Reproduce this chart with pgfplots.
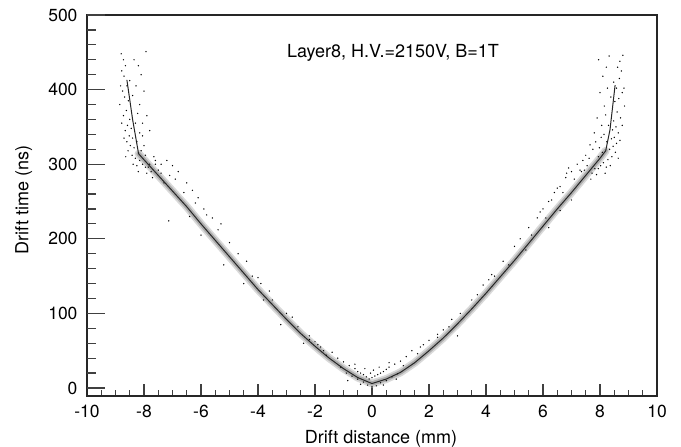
\documentclass[border=0pt]{standalone}
\usepackage{pgfplots}
\pgfplotsset{compat=1.18}
\usepackage{pgfplotstable}
\usepackage{fontspec}
\setmainfont{TeX Gyre Heros}

% fitted drift curve
\pgfplotstableread{
x y
-8.60 413
-8.40 360
-8.19 314
-8.00 306
-7.50 285
-7.00 264
-6.50 243
-6.00 220
-5.50 198
-5.00 176
-4.50 154
-4.00 132
-3.50 112
-3.00 92
-2.50 73
-2.00 56
-1.50 40
-1.00 26
-0.50 14
0.00 6
0.50 12
1.00 21
1.50 34
2.00 50
2.50 67
3.00 86
3.50 106
4.00 127
4.50 149
5.00 171
5.50 194
6.00 217
6.50 240
7.00 262
7.50 285
8.00 308
8.20 318
8.35 346
8.53 406
}\fitcurve

% dense core of the hit band
\pgfplotstableread{
x y
-8.19 314
-8.00 306
-7.50 285
-7.00 264
-6.50 243
-6.00 220
-5.50 198
-5.00 176
-4.50 154
-4.00 132
-3.50 112
-3.00 92
-2.50 73
-2.00 56
-1.50 40
-1.00 26
-0.50 14
0.00 6
0.50 12
1.00 21
1.50 34
2.00 50
2.50 67
3.00 86
3.50 106
4.00 127
4.50 149
5.00 171
5.50 194
6.00 217
6.50 240
7.00 262
7.50 285
8.00 308
8.20 318
}\band

% sparse hits
\pgfplotstableread{
x y
-8.80 448
-8.72 440
-8.78 425
-8.65 432
-8.70 418
-8.60 405
-8.75 398
-8.68 390
-8.55 385
-8.62 372
-8.72 365
-8.50 360
-8.58 352
-8.66 345
-8.45 348
-8.52 338
-8.60 330
-8.40 335
-8.48 325
-8.56 318
-8.35 322
-8.42 312
-8.30 308
-8.38 300
-8.25 298
-8.15 305
-8.05 300
-7.95 296
-8.20 290
-7.90 288
-7.85 296
-7.75 290
-7.70 282
-8.10 318
-8.00 325
-8.25 330
-8.15 342
-8.30 355
-8.05 338
-7.95 312
-7.93 451
-8.20 432
-8.35 440
-8.10 420
-8.00 398
-8.28 405
-8.15 380
-7.90 365
-8.40 392
-8.22 368
-8.05 355
-7.80 345
-8.50 412
-8.82 405
-8.85 380
-8.78 355
-8.70 335
-8.64 310
-7.65 310
-7.60 300
-7.50 292
-7.40 288
8.80 446
8.70 438
8.75 425
8.62 430
8.68 415
8.58 402
8.78 396
8.66 388
8.52 384
8.60 370
8.72 362
8.48 358
8.56 350
8.64 342
8.44 346
8.50 336
8.58 328
8.40 334
8.46 324
8.54 316
8.34 320
8.42 310
8.28 306
8.36 298
8.22 296
8.12 302
8.02 298
7.94 294
8.18 288
7.88 286
7.82 294
7.72 288
7.68 280
8.08 316
7.98 322
8.24 330
8.14 340
8.30 352
8.04 336
7.94 310
7.95 440
8.22 430
8.32 445
8.10 418
8.00 396
8.26 402
8.15 378
7.90 362
8.38 390
8.20 366
8.06 352
7.80 342
8.48 410
8.84 402
8.86 378
8.78 352
8.70 332
8.64 308
7.62 308
7.55 298
7.45 292
7.35 290
7.75 320
7.85 330
7.65 326
7.50 312
7.20 300
7.00 290
6.80 282
6.60 270
6.40 262
6.20 250
6.00 240
5.80 228
5.50 215
5.20 200
6.90 295
7.10 280
7.30 292
6.70 262
6.30 252
5.90 236
6.83 288
6.50 268
7.40 305
5.00 190
4.60 170
4.20 152
6.10 228
5.60 205
6.60 238
5.40 185
4.80 165
3.00 70
7.00 252
6.20 215
-7.20 305
-7.00 298
-6.80 290
-6.50 275
-6.30 265
-7.40 300
-7.60 305
-6.90 280
-6.10 255
-5.90 240
-5.60 228
-5.30 220
-6.60 262
-7.10 285
-7.30 275
-7.80 300
-5.00 195
-4.70 180
-4.40 170
-5.80 232
-6.20 248
-4.00 148
-3.60 130
-5.40 212
-7.13 224
-6.00 205
-5.20 165
-4.50 140
-3.20 85
-6.40 230
-3.80 118
-1.00 35
-0.80 30
-0.60 26
-0.50 22
-0.40 20
-0.30 18
-0.20 15
-0.10 12
0.00 14
0.10 16
0.20 18
0.30 20
0.40 22
0.50 25
0.60 28
0.80 32
1.00 36
-0.90 20
-0.70 16
-0.50 12
-0.30 8
-0.15 4
0.15 3
0.30 7
0.50 10
0.70 15
0.90 19
-1.20 40
1.20 42
-0.05 20
0.05 24
-0.25 26
0.25 28
-1.40 48
1.40 50
-0.60 32
0.60 34
0.00 2
-0.40 5
0.40 4
-1.10 28
1.10 30
-1.60 44
1.60 46
-1.80 55
1.80 58
-2.00 62
2.00 64
-2.20 70
2.30 72
-0.85 10
0.85 12
-3.50 118
-3.00 100
-2.60 82
-2.20 65
-1.90 58
-2.80 95
-3.90 140
-4.20 150
-2.40 60
3.50 118
3.10 100
2.70 82
2.30 68
3.90 138
4.30 150
2.80 92
2.50 78
4.10 145
3.70 125
1.70 55
-1.70 50
}\hits

\begin{document}
\begin{tikzpicture}
\pgfplotsset{
  every axis/.append style={
    scale only axis, width=570pt, height=381pt,
    xmin=-10, xmax=10, ymin=-10.7, ymax=500,
    /pgf/number format/assume math mode=true,
    tick label style={font=\fontsize{17.5}{20}\selectfont},
    tick align=inside,
    tick style={line width=1.2pt, black!75},
  }
}
\begin{axis}[
  axis line style={line width=1.8pt, black!85},
  xtick={-10,-8,...,10}, minor x tick num=3, xtick pos=bottom,
  ytick=\empty,
  major tick length=12pt, minor tick length=6pt,
  xticklabel style={yshift=-6pt},
  clip=true,
]
\addplot[gray!30, line width=8pt, line join=round, line cap=round] table {\band};
\addplot[gray!65, line width=4.5pt, line join=round, line cap=round] table {\band};
\addplot[only marks, mark=*, mark size=0.45pt, mark options={draw=none, fill=gray!60}] table {\hits};
\addplot[black!85, line width=1pt] table {\fitcurve};
\end{axis}
\begin{axis}[
  axis line style={draw=none},
  xtick=\empty,
  ytick={0,100,...,500}, minor y tick num=4, ytick pos=left,
  major tick length=18pt, minor tick length=9pt,
  yticklabel style={xshift=-6pt},
]
\addplot[draw=none] coordinates {(0,0)};
\end{axis}
\node[anchor=base, font=\fontsize{18}{21}\selectfont] at (306pt,338pt) {Layer8, H.V.=2150V, B=1T};
\node[anchor=base, font=\fontsize{18}{21}\selectfont] at (294pt,-47.7pt) {Drift distance (mm)};
\node[anchor=base, rotate=90, font=\fontsize{18}{21}\selectfont] at (-58.5pt,196pt) {Drift time (ns)};
\pgfresetboundingbox
\path[use as bounding box] (-87pt,-51pt) rectangle (594pt,396pt);
\end{tikzpicture}
\end{document}
